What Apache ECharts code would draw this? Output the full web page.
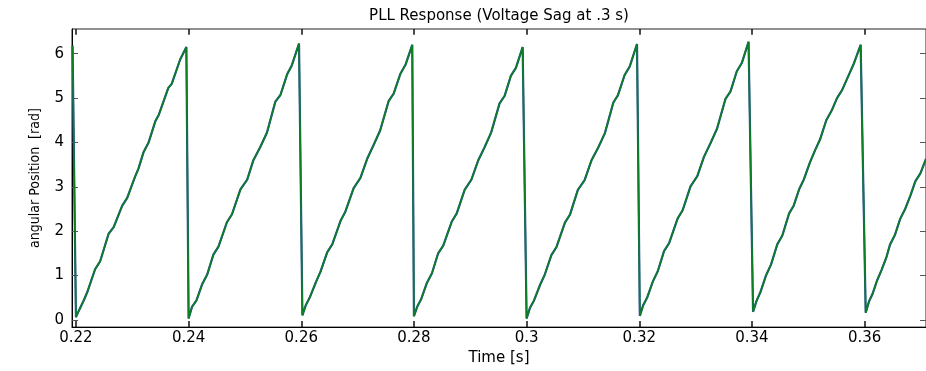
<!DOCTYPE html>
<html>
<head>
<meta charset="utf-8">
<script src="https://cdn.jsdelivr.net/npm/echarts@6/dist/echarts.min.js"></script>
<style>
html,body{margin:0;padding:0;background:#fff;}
#chart{width:926px;height:371px;}
</style>
</head>
<body>
<div id="chart"></div>
<script>
// ---- data ----
const titleText = 'PLL Response (Voltage Sag at .3 s)';
const xName = 'Time [s]';
const yName = 'angular Position  [rad]';
const xTicks = [0.22, 0.24, 0.26, 0.28, 0.3, 0.32, 0.34, 0.36];
const yTicks = [0, 1, 2, 3, 4, 5, 6];
const xRange = [0.2193, 0.3709];
const yRange = [-0.165, 6.558];

const times = [
  0.2194, 0.2196,
  0.2200, 0.2205, 0.2214, 0.2220, 0.2234, 0.2243, 0.2258, 0.2267, 0.2282, 0.2291, 0.2305, 0.2311, 0.2320, 0.2329, 0.2341, 0.2347, 0.2364, 0.2370, 0.2385, 0.2396,
  0.2400, 0.2406, 0.2414, 0.2424, 0.2433, 0.2444, 0.2453, 0.2468, 0.2477, 0.2492, 0.2504, 0.2515, 0.2527, 0.2539, 0.2554, 0.2563, 0.2575, 0.2583, 0.2596,
  0.2602, 0.2608, 0.2615, 0.2626, 0.2634, 0.2646, 0.2655, 0.2670, 0.2678, 0.2693, 0.2705, 0.2717, 0.2728, 0.2740, 0.2755, 0.2764, 0.2776, 0.2785, 0.2797,
  0.2800, 0.2806, 0.2813, 0.2823, 0.2832, 0.2843, 0.2852, 0.2867, 0.2876, 0.2890, 0.2902, 0.2914, 0.2925, 0.2937, 0.2952, 0.2961, 0.2972, 0.2981, 0.2993,
  0.3000, 0.3006, 0.3013, 0.3024, 0.3032, 0.3044, 0.3053, 0.3068, 0.3077, 0.3091, 0.3103, 0.3115, 0.3127, 0.3139, 0.3154, 0.3162, 0.3174, 0.3183, 0.3196,
  0.3201, 0.3207, 0.3214, 0.3224, 0.3233, 0.3244, 0.3253, 0.3268, 0.3277, 0.3291, 0.3303, 0.3315, 0.3326, 0.3338, 0.3353, 0.3362, 0.3373, 0.3382, 0.3394,
  0.3402, 0.3408, 0.3415, 0.3425, 0.3434, 0.3445, 0.3454, 0.3466, 0.3474, 0.3484, 0.3492, 0.3503, 0.3512, 0.3521, 0.3532, 0.3542, 0.3551, 0.3560, 0.3574, 0.3581, 0.3593,
  0.3602, 0.3608, 0.3614, 0.3622, 0.3630, 0.3639, 0.3645, 0.3654, 0.3663, 0.3672, 0.3681, 0.3690, 0.3699, 0.3709
];

const anglePll = [
  6.18, 6.20,
  0.06, 0.20, 0.44, 0.62, 1.14, 1.32, 1.94, 2.09, 2.57, 2.75, 3.23, 3.41, 3.78, 4.00, 4.48, 4.62, 5.23, 5.32, 5.87, 6.15,
  0.03, 0.29, 0.44, 0.80, 1.02, 1.47, 1.65, 2.20, 2.38, 2.94, 3.16, 3.60, 3.89, 4.22, 4.92, 5.07, 5.54, 5.73, 6.23,
  0.10, 0.33, 0.50, 0.85, 1.08, 1.52, 1.70, 2.24, 2.43, 2.97, 3.20, 3.63, 3.93, 4.27, 4.93, 5.10, 5.55, 5.75, 6.20,
  0.08, 0.30, 0.47, 0.83, 1.05, 1.50, 1.67, 2.21, 2.40, 2.93, 3.16, 3.59, 3.88, 4.22, 4.88, 5.05, 5.50, 5.68, 6.15,
  0.03, 0.27, 0.43, 0.79, 1.01, 1.46, 1.64, 2.19, 2.37, 2.93, 3.15, 3.59, 3.88, 4.21, 4.90, 5.06, 5.52, 5.71, 6.22,
  0.09, 0.33, 0.50, 0.86, 1.10, 1.55, 1.73, 2.28, 2.47, 3.01, 3.24, 3.68, 3.97, 4.31, 4.98, 5.15, 5.60, 5.79, 6.27,
  0.18, 0.42, 0.62, 1.00, 1.25, 1.70, 1.90, 2.40, 2.57, 2.95, 3.16, 3.55, 3.82, 4.07, 4.50, 4.73, 5.00, 5.18, 5.58, 5.78, 6.20,
  0.16, 0.42, 0.58, 0.88, 1.12, 1.42, 1.69, 1.92, 2.27, 2.50, 2.79, 3.12, 3.30, 3.63
];

// reference angle nearly identical to the PLL output
const angleRef = anglePll.slice();

// ---- chart ----
const pairs = (t, v) => t.map((x, i) => [x, v[i]]);
const FONT = 'DejaVu Sans';
const tickStyle = {color: '#111', width: 1.5};

const chart = echarts.init(document.getElementById('chart'), null, {renderer: 'canvas'});
chart.setOption({
  animation: false,
  backgroundColor: '#fff',
  title: {
    text: titleText,
    left: 494, top: 4, textAlign: 'center',
    textStyle: {fontFamily: FONT, fontSize: 15, fontWeight: 'normal', color: '#000'}
  },
  grid: {left: 72, right: -1, top: 29, bottom: 37, containLabel: false,
    show: true, borderColor: '#222', borderWidth: 1, backgroundColor: 'transparent'},
  xAxis: [{
    type: 'value', gridIndex: 0, position: 'bottom',
    min: xRange[0], max: xRange[1],
    name: xName, nameLocation: 'middle', nameGap: 23,
    nameTextStyle: {fontFamily: FONT, fontSize: 15, color: '#000'},
    axisLine: {show: true, onZero: false, lineStyle: {color: '#000', width: 1}},
    axisTick: {show: true, inside: true, length: 6, customValues: xTicks, lineStyle: tickStyle},
    axisLabel: {show: true, customValues: xTicks, margin: 4, fontFamily: FONT, fontSize: 15, color: '#000',
      formatter: v => String(Number(v.toFixed(4)))},
    splitLine: {show: false}
  }],
  yAxis: [{
    type: 'value', gridIndex: 0, position: 'left',
    min: yRange[0], max: yRange[1],
    name: yName, nameLocation: 'middle', nameGap: 30, nameRotate: 90,
    nameTextStyle: {fontFamily: '"DejaVu Sans Condensed", "Liberation Sans", sans-serif', fontSize: 14, color: '#000'},
    axisLine: {show: true, onZero: false, lineStyle: {color: '#000', width: 1}},
    axisTick: {show: true, inside: true, length: 6, customValues: yTicks, lineStyle: {color: '#555'}},
    axisLabel: {show: true, customValues: yTicks, margin: 8, fontFamily: FONT, fontSize: 15, color: '#000'},
    splitLine: {show: false}
  }, {
    type: 'value', gridIndex: 0, position: 'right',
    min: yRange[0], max: yRange[1],
    axisLine: {show: false, onZero: false},
    axisTick: {show: true, inside: true, length: 6, customValues: yTicks, lineStyle: {color: '#555'}},
    axisLabel: {show: false},
    splitLine: {show: false}
  }],
  series: [{
    name: 'reference', type: 'line', xAxisIndex: 0, yAxisIndex: 0,
    data: pairs(times, angleRef), showSymbol: false, symbol: 'none', clip: false,
    lineStyle: {color: '#2a4f9e', width: 2.2},
    // short tick marks hanging from the top frame, at the x tick values
    markLine: {
      silent: true, symbol: 'none', label: {show: false}, animation: false,
      lineStyle: {color: '#111', width: 1.5, type: 'solid', opacity: 1},
      emphasis: {disabled: true},
      data: xTicks.map(v => [{coord: [v, yRange[1]]}, {coord: [v, yRange[1] - 0.13]}])
    }
  }, {
    name: 'PLL', type: 'line', xAxisIndex: 0, yAxisIndex: 0,
    data: pairs(times, anglePll), showSymbol: false, symbol: 'none', clip: true,
    lineStyle: {color: '#0b7f22', width: 1.6}
  }]
});
</script>
</body>
</html>
